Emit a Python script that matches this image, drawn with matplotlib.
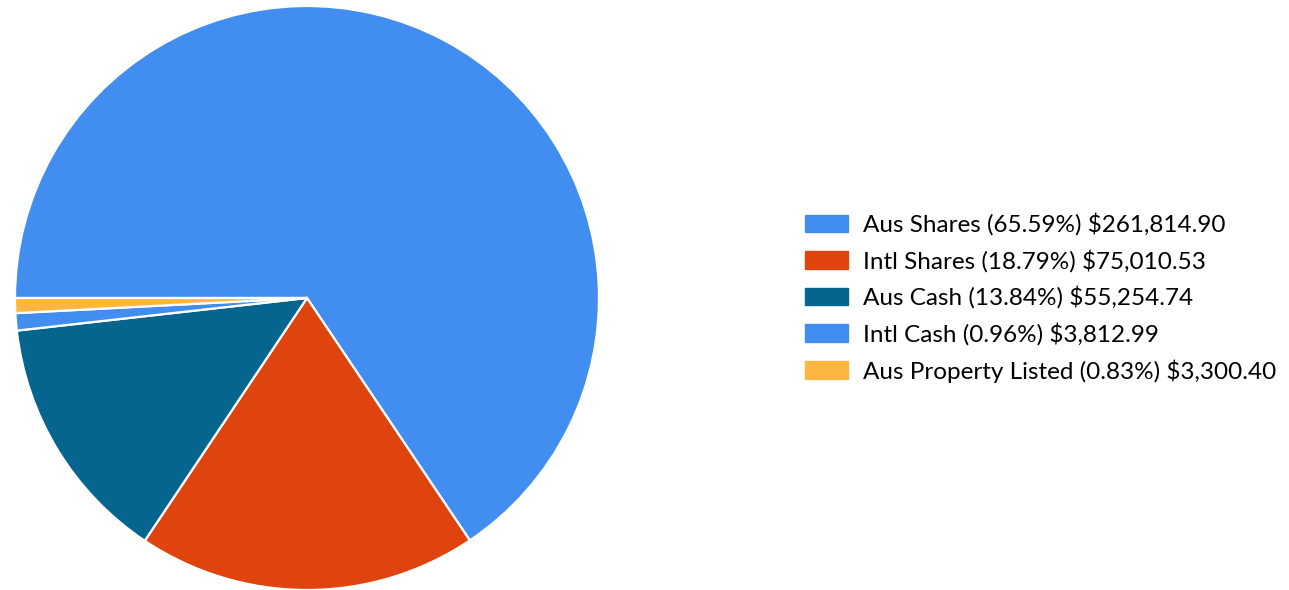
#!/usr/bin/env python3
# -*- coding: utf-8 -*-
"""
Portfolio allocation pie chart with a value legend.
"""

import matplotlib
matplotlib.use("Agg")
import matplotlib.pyplot as plt
from matplotlib import patches as mpatches

CATEGORIES = ["Aus Shares", "Intl Shares", "Aus Cash", "Intl Cash", "Aus Property Listed"]
VALUES = [261814.90, 75010.53, 55254.74, 3812.99, 3300.40]
COLORS = ["#428DF0", "#E0440E", "#05658F", "#428DF0", "#FDB641"]

W, H = 1289, 590

plt.rcParams['font.family'] = ['Lato', 'DejaVu Sans']

fig = plt.figure(figsize=(W / 100, H / 100), dpi=100)

# pie axes: centre ~ (307, 298) px, radius ~ 292 px
cx, cy, r = 307, 298, 292
ax = fig.add_axes([(cx - r) / W, (H - cy - r) / H, 2 * r / W, 2 * r / H])
ax.pie(VALUES, colors=COLORS, startangle=180, counterclock=False,
       wedgeprops=dict(edgecolor="white", linewidth=1.6))
ax.set_aspect("equal")
ax.set_xlim(-1, 1)
ax.set_ylim(-1, 1)

total = sum(VALUES)
labels = ["%s (%.2f%%) $%s" % (c, 100 * v / total, format(v, ",.2f"))
          for c, v in zip(CATEGORIES, VALUES)]
handles = [mpatches.Patch(color=col, label=lab) for col, lab in zip(COLORS, labels)]

fs = 17.5
fig.legend(handles=handles, labels=labels, loc="upper left",
           bbox_to_anchor=(805 / W, 1 - 213 / H), frameon=False, fontsize=fs,
           handlelength=1.77, handleheight=0.74, handletextpad=0.62,
           labelspacing=0.56, borderpad=0, borderaxespad=0)

fig.savefig("out.png", dpi=100)
